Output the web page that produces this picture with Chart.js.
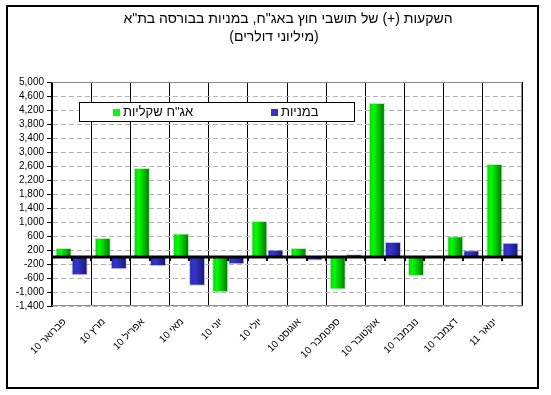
<!DOCTYPE html>
<html lang="he">
<head>
<meta charset="utf-8">
<script src="https://cdn.jsdelivr.net/npm/chart.js@4.4.0/dist/chart.umd.min.js"></script>
<style>
  html, body { margin: 0; padding: 0; background: #fff; }
  canvas { display: block; }
</style>
</head>
<body>
<canvas id="chart" width="551" height="395"></canvas>
<script>
const months = ["פברואר 10", "מרץ 10", "אפריל 10", "מאי 10", "יוני 10", "יולי 10",
    "אוגוסט 10", "ספטמבר 10", "אוקטובר 10", "נובמבר 10", "דצמבר 10", "ינואר 11"];
const bonds = [260, 540, 2540, 670, -1010, 1030, 260, -930, 4400, -540, 590, 2660];
const stocks = [-520, -350, -260, -820, -210, 210, -100, 80, 430, 0, 190, 410];
const seriesNames = ["אג\"ח שקליות", "במניות"];
const titleLines = ["השקעות (+) של תושבי חוץ באג\"ח, במניות בבורסה בת\"א", "(מיליוני דולרים)"];
const yMin = -1400;
const yMax = 5000;
const yStep = 400;

const FONT = "'Liberation Sans', Arial, 'DejaVu Sans', sans-serif";
const CAT_PCT = 0.82;
const greenStops = [[0, "#14c814"], [0.3, "#00ff00"], [1, "#007000"]];
const blueStops = [[0, "#2a2ab4"], [0.35, "#3434cc"], [1, "#16166e"]];

// horizontal gradient across each bar, position taken from the x scale
function barFill(stops) {
    return (c) => {
        const chart = c.chart;
        const x = chart.scales.x;
        if (!x || !chart.chartArea) return stops[1][1];
        const slot = (x.right - x.left) / months.length;
        const w = slot * CAT_PCT / 2;
        const left = x.getPixelForValue(c.dataIndex) - w + c.datasetIndex * w;
        const g = chart.ctx.createLinearGradient(left, 0, left + w, 0);
        stops.forEach(([p, col]) => g.addColorStop(p, col));
        return g;
    };
}

const decorations = {
    id: "decorations",
    afterDatasetsDraw(chart) {
        const { ctx, chartArea: a, scales } = chart;
        const y0 = Math.round(scales.y.getPixelForValue(0));
        const slot = (a.right - a.left) / months.length;
        ctx.save();
        // plot frame (gray top/right/bottom)
        ctx.strokeStyle = "#8c8c8c";
        ctx.lineWidth = 1;
        ctx.beginPath();
        ctx.moveTo(a.left, a.top + 0.5);
        ctx.lineTo(a.right - 0.5, a.top + 0.5);
        ctx.lineTo(a.right - 0.5, a.bottom - 0.5);
        ctx.lineTo(a.left, a.bottom - 0.5);
        ctx.stroke();
        // zero line
        ctx.strokeStyle = "#000";
        ctx.lineWidth = 3;
        ctx.beginPath();
        ctx.moveTo(a.left, y0);
        ctx.lineTo(a.right, y0);
        ctx.stroke();
        ctx.lineWidth = 2;
        for (let i = 0; i <= months.length * 2; i++) {
            const xx = Math.round(a.left + i * slot / 2);
            ctx.beginPath();
            ctx.moveTo(xx, y0);
            ctx.lineTo(xx, y0 + 4);
            ctx.stroke();
        }
        // legend box
        const lx = a.left + 27, ly = a.top + 20, lw = 275, lh = 19;
        ctx.fillStyle = "#fff";
        ctx.fillRect(lx, ly, lw, lh);
        ctx.lineWidth = 1;
        ctx.strokeRect(lx + 0.5, ly + 0.5, lw, lh);
        const items = [[lx + 34, greenStops[1][1]], [lx + 192, blueStops[1][1]]];
        ctx.font = "13px " + FONT;
        ctx.textBaseline = "middle";
        ctx.textAlign = "left";
        items.forEach(([ix, col], k) => {
            ctx.fillStyle = col;
            ctx.fillRect(ix, ly + 7, 7, 7);
            ctx.fillStyle = "#000";
            ctx.fillText(seriesNames[k], ix + 10, ly + 10.5);
        });
        ctx.restore();
    },
    afterDraw(chart) {
        const { ctx } = chart;
        ctx.save();
        ctx.fillStyle = "#000";
        ctx.font = "14px " + FONT;
        ctx.textAlign = "center";
        ctx.textBaseline = "middle";
        ctx.direction = "rtl";
        ctx.fillText(titleLines[0], 288, 19);
        ctx.fillText(titleLines[1], 274, 37);
        ctx.restore();
        ctx.save();
        ctx.strokeStyle = "#000";
        ctx.lineWidth = 2;
        ctx.strokeRect(7, 6, 531, 382);
        ctx.restore();
    }
};

new Chart(document.getElementById("chart"), {
    type: "bar",
    data: {
        labels: months,
        datasets: [
            {
                label: seriesNames[0],
                data: bonds,
                backgroundColor: barFill(greenStops),
                borderColor: "rgba(120,220,120,0.5)",
                borderWidth: 1,
                borderSkipped: false,
                categoryPercentage: CAT_PCT,
                barPercentage: 1,
            },
            {
                label: seriesNames[1],
                data: stocks,
                backgroundColor: barFill(blueStops),
                borderColor: "rgba(140,140,230,0.5)",
                borderWidth: 1,
                borderSkipped: false,
                categoryPercentage: CAT_PCT,
                barPercentage: 1,
            },
        ],
    },
    options: {
        responsive: false,
        animation: false,
        events: [],
        layout: {
            padding: { left: 8, right: 29, top: 82, bottom: 29 },
        },
        plugins: {
            legend: { display: false },
            title: { display: false },
            tooltip: { enabled: false },
        },
        scales: {
            x: {
                afterFit: (s) => { s.height = 60; },
                grid: {
                    color: "#000",
                    lineWidth: 1,
                    drawTicks: false,
                },
                border: { display: false },
                ticks: {
                    autoSkip: false,
                    minRotation: 45,
                    maxRotation: 45,
                    padding: 10,
                    labelOffset: -7,
                    color: "#000",
                    font: { family: FONT, size: 10 },
                },
            },
            y: {
                min: yMin,
                max: yMax,
                afterFit: (s) => { s.width = 44; },
                afterBuildTicks: (s) => {
                    s.ticks = [];
                    for (let v = yMin; v <= yMax; v += yStep) s.ticks.push({ value: v });
                },
                grid: {
                    color: "#b4b4b4",
                    lineWidth: 1,
                    tickColor: "#000",
                    tickLength: 5,
                },
                border: { color: "#000", width: 1, dash: [5, 3] },
                ticks: {
                    autoSkip: false,
                    padding: 3,
                    color: "#000",
                    font: { family: FONT, size: 10 },
                    callback: (v) => v.toLocaleString("en-US"),
                },
            },
        },
    },
    plugins: [decorations],
});
</script>
</body>
</html>
